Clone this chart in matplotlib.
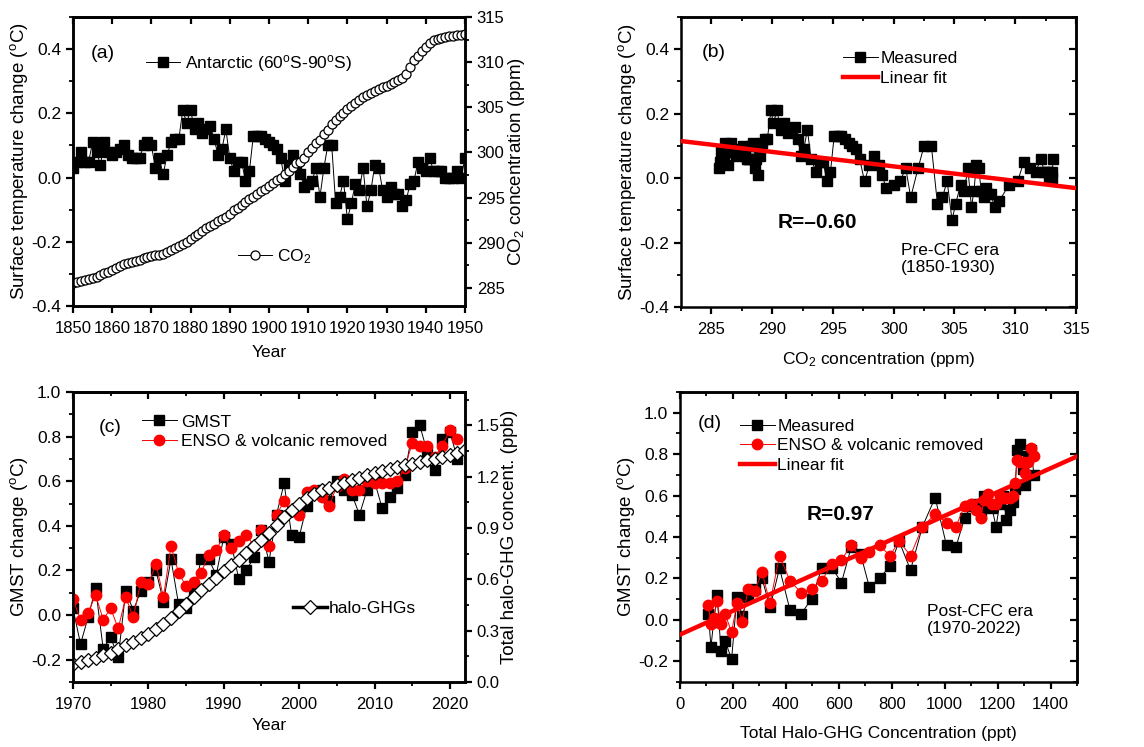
import numpy as np
import matplotlib
matplotlib.use("Agg")
import matplotlib.pyplot as plt
from matplotlib.ticker import MultipleLocator

plt.rcParams['font.family'] = ['Liberation Sans', 'DejaVu Sans']
plt.rcParams['mathtext.fontset'] = 'custom'
plt.rcParams['mathtext.rm'] = 'Liberation Sans'
plt.rcParams['mathtext.it'] = 'Liberation Sans:italic'
plt.rcParams['mathtext.bf'] = 'Liberation Sans:bold'

# ---------------- data ----------------
years_a = list(range(1850, 1951))
antarctic_temp = [0.03, 0.05, 0.08, 0.05, 0.05, 0.11, 0.08, 0.04, 0.11, 0.08,
                  0.07, 0.08, 0.09, 0.10, 0.07, 0.06, 0.06, 0.06, 0.10, 0.11,
                  0.10, 0.03, 0.06, 0.01, 0.07, 0.11, 0.12, 0.12, 0.21, 0.17,
                  0.21, 0.15, 0.17, 0.14, 0.15, 0.16, 0.12, 0.07, 0.09, 0.15,
                  0.06, 0.02, 0.05, 0.05, -0.01, 0.02, 0.13, 0.13, 0.13, 0.12,
                  0.11, 0.10, 0.09, 0.06, -0.01, 0.04, 0.07, 0.04, 0.01, -0.03,
                  -0.02, -0.01, 0.03, -0.06, 0.03, 0.10, 0.10, -0.08, -0.06, -0.01,
                  -0.13, -0.08, -0.02, -0.04, 0.03, -0.09, -0.04, 0.04, 0.03, -0.04,
                  -0.06, -0.03, -0.05, -0.05, -0.09, -0.07, -0.02, -0.01, 0.05, 0.03,
                  0.02, 0.06, 0.02, 0.02, 0.02, 0.00, 0.00, 0.00, 0.02, 0.00,
                  0.06]
co2_ppm = [285.6, 285.7, 285.8, 285.9, 286.0, 286.1, 286.2, 286.4, 286.6, 286.8,
           287.0, 287.2, 287.4, 287.6, 287.8, 287.9, 288.0, 288.1, 288.3, 288.4,
           288.5, 288.6, 288.7, 288.8, 289.0, 289.2, 289.4, 289.6, 289.9, 290.1,
           290.4, 290.7, 291.0, 291.3, 291.6, 291.9, 292.1, 292.4, 292.6, 292.9,
           293.2, 293.6, 293.9, 294.2, 294.5, 294.8, 295.1, 295.4, 295.7, 296.0,
           296.3, 296.6, 296.9, 297.2, 297.6, 298.0, 298.4, 298.8, 299.0, 299.4,
           300.0, 300.5, 301.0, 301.4, 302.0, 302.5, 303.1, 303.6, 304.0, 304.4,
           304.8, 305.1, 305.5, 305.8, 306.1, 306.4, 306.6, 306.8, 307.0, 307.2,
           307.4, 307.6, 307.8, 308.0, 308.3, 308.7, 309.5, 310.2, 310.7, 311.2,
           311.7, 312.1, 312.4, 312.6, 312.7, 312.8, 312.9, 312.9, 313.0, 313.05,
           313.1]
fit_b_x = [282.5, 315.0]
fit_b_y = [0.115, -0.031]

years_c = list(range(1970, 2022))
gmst = [0.03, -0.13, -0.01, 0.12, -0.15, -0.10, -0.19, 0.11, 0.02, 0.11,
        0.15, 0.20, 0.06, 0.25, 0.05, 0.03, 0.10, 0.25, 0.25, 0.18,
        0.35, 0.32, 0.16, 0.20, 0.26, 0.38, 0.24, 0.45, 0.59, 0.36,
        0.35, 0.49, 0.55, 0.56, 0.51, 0.60, 0.56, 0.54, 0.45, 0.56,
        0.60, 0.48, 0.53, 0.57, 0.63, 0.82, 0.85, 0.73, 0.65, 0.79,
        0.82, 0.70]
gmst_adj = [0.07, -0.02, 0.01, 0.09, -0.02, 0.03, -0.06, 0.08, -0.01, 0.15,
            0.14, 0.23, 0.08, 0.31, 0.19, 0.13, 0.15, 0.19, 0.27, 0.29,
            0.36, 0.30, 0.33, 0.36, 0.31, 0.38, 0.31, 0.45, 0.51, 0.47,
            0.45, 0.55, 0.56, 0.53, 0.49, 0.58, 0.61, 0.56, 0.56, 0.60,
            0.59, 0.59, 0.59, 0.60, 0.66, 0.77, 0.76, 0.76, 0.71, 0.76,
            0.83, 0.79]
years_halo = list(range(1970, 2023))
halo_ppb = [0.107, 0.117, 0.127, 0.140, 0.155, 0.170, 0.195, 0.215, 0.235, 0.257,
            0.282, 0.310, 0.340, 0.376, 0.415, 0.458, 0.497, 0.536, 0.575, 0.610,
            0.647, 0.682, 0.715, 0.754, 0.793, 0.828, 0.871, 0.916, 0.964, 1.007,
            1.042, 1.075, 1.100, 1.120, 1.136, 1.149, 1.165, 1.179, 1.194, 1.208,
            1.222, 1.233, 1.245, 1.257, 1.266, 1.274, 1.284, 1.296, 1.305, 1.315,
            1.325, 1.338, 1.354]
fit_d_x = [0.0, 1500.0]
fit_d_y = [-0.071, 0.789]

# ---------------- figure ----------------
fig = plt.figure(figsize=(11.44, 7.47), dpi=100)
W, H = 1144, 747


def add_axes_px(l, t, r, b):
    return fig.add_axes([l / W, 1 - b / H, (r - l) / W, (b - t) / H])


SP_LW = 1.8
XTICK_FS = 12
YTICK_FS = 12.5
XLAB_FS = 12.5
YLAB_FS = 13.5
LEG_FS = 12.5
PANEL_FS = 14


def style_axes(ax):
    for s in ax.spines.values():
        s.set_linewidth(SP_LW)
    ax.tick_params(which='major', length=5, width=1.6, direction='out')
    ax.tick_params(which='minor', length=3, width=1.3, direction='out')
    ax.tick_params(axis='x', labelsize=XTICK_FS, pad=6)
    ax.tick_params(axis='y', labelsize=YTICK_FS)
    ax.tick_params(top=False, right=False, which='both')


def mirror(ax, xmaj, xmin, ymaj=None, ymin=None):
    sx = ax.secondary_xaxis('top')
    sx.xaxis.set_major_locator(MultipleLocator(xmaj))
    if xmin:
        sx.xaxis.set_minor_locator(MultipleLocator(xmin))
    sx.tick_params(which='major', direction='in', length=5, width=1.6, labeltop=False)
    sx.tick_params(which='minor', direction='in', length=3, width=1.3)
    sx.spines['top'].set_linewidth(SP_LW)
    if ymaj is not None:
        sy = ax.secondary_yaxis('right')
        sy.yaxis.set_major_locator(MultipleLocator(ymaj))
        if ymin:
            sy.yaxis.set_minor_locator(MultipleLocator(ymin))
        sy.tick_params(which='major', direction='in', length=5, width=1.6, labelright=False)
        sy.tick_params(which='minor', direction='in', length=3, width=1.3)
        sy.spines['right'].set_linewidth(SP_LW)


def style_twin(a):
    for s in a.spines.values():
        s.set_linewidth(SP_LW)
    a.tick_params(which='major', length=5, width=1.6, labelsize=XTICK_FS, direction='out')
    a.tick_params(which='minor', length=3, width=1.3, direction='out')


deg = r'($^\mathrm{o}$C)'
leg_kw = dict(frameon=False, fontsize=LEG_FS, handlelength=2.0, borderaxespad=0,
              borderpad=0, numpoints=1, labelspacing=0.25, loc='center left')

# ---------- (a) ----------
ax = add_axes_px(73, 17, 465, 306)
style_axes(ax)
ax.plot(years_a, antarctic_temp, color='black', lw=0.7, marker='s', ms=7,
        mfc='black', mec='black', label=r'Antarctic (60$^\mathrm{o}$S-90$^\mathrm{o}$S)')
ax.set_xlim(1850, 1950)
ax.set_ylim(-0.4, 0.5)
ax.xaxis.set_major_locator(MultipleLocator(10))
ax.set_yticks([-0.4, -0.2, 0.0, 0.2, 0.4])
ax.set_yticklabels(['-0.4', '-0.2', '0.0', '0.2', '0.4'])
ax.yaxis.set_minor_locator(MultipleLocator(0.1))
ax.set_xlabel('Year', fontsize=XLAB_FS, labelpad=6)
ax.set_ylabel('Surface temperature change ' + deg, fontsize=YLAB_FS, labelpad=1)
mirror(ax, 10, None)
ax2 = ax.twinx()
ax2.plot(years_a, co2_ppm, color='black', lw=0.7, marker='o', ms=6.5,
         mfc='white', mec='black', mew=0.9, label='CO$_2$')
ax2.set_ylim(283.0, 315.0)
ax2.yaxis.set_major_locator(MultipleLocator(5))
ax2.yaxis.set_minor_locator(MultipleLocator(2.5))
style_twin(ax2)
ax2.set_ylabel('CO$_2$ concentration (ppm)', fontsize=YLAB_FS, labelpad=1)
ax.text(0.046, 0.875, '(a)', transform=ax.transAxes, fontsize=PANEL_FS, va='center')
ax.legend(bbox_to_anchor=(0.185, 0.84), handletextpad=0.25, **leg_kw)
ax2.legend(bbox_to_anchor=(0.42, 0.17), handletextpad=0.25, **leg_kw)

# ---------- (b) ----------
bx = add_axes_px(681, 17, 1076, 307)
style_axes(bx)
bx.plot(co2_ppm, antarctic_temp, color='black', lw=0.7, marker='s', ms=7,
        mfc='black', mec='black', label='Measured', zorder=2)
bx.plot(fit_b_x, fit_b_y, color='#ff0000', lw=3.2, label='Linear fit', zorder=3)
bx.set_xlim(282.5, 315)
bx.set_ylim(-0.4, 0.5)
bx.xaxis.set_major_locator(MultipleLocator(5))
bx.xaxis.set_minor_locator(MultipleLocator(2.5))
bx.set_yticks([-0.4, -0.2, 0.0, 0.2, 0.4])
bx.set_yticklabels(['-0.4', '-0.2', '0.0', '0.2', '0.4'])
bx.yaxis.set_minor_locator(MultipleLocator(0.1))
bx.set_xlabel('CO$_2$ concentration (ppm)', fontsize=XLAB_FS, labelpad=9)
bx.set_ylabel('Surface temperature change ' + deg, fontsize=YLAB_FS, labelpad=1)
mirror(bx, 5, 2.5, 0.2, 0.1)
bx.text(0.053, 0.876, '(b)', transform=bx.transAxes, fontsize=PANEL_FS, va='center')
bx.text(0.245, 0.29, 'R=\u20130.60', transform=bx.transAxes, fontsize=15, fontweight='bold', va='center')
bx.text(0.557, 0.165, 'Pre-CFC era\n(1850-1930)', transform=bx.transAxes, fontsize=LEG_FS,
        va='center', linespacing=1.15)
bx.legend(bbox_to_anchor=(0.41, 0.822), handletextpad=0.15, **leg_kw)

# ---------- (c) ----------
cx = add_axes_px(73, 392, 465, 682)
style_axes(cx)
cx.plot(years_c, gmst, color='black', lw=0.7, marker='s', ms=7,
        mfc='black', mec='black', label='GMST', zorder=2)
cx.plot(years_c, gmst_adj, color='#ff0000', lw=0.7, marker='o', ms=7.5,
        mfc='#ff0000', mec='#ff0000', label='ENSO & volcanic removed', zorder=3)
cx.set_xlim(1970, 2022)
cx.set_ylim(-0.3, 1.0)
cx.xaxis.set_major_locator(MultipleLocator(10))
cx.xaxis.set_minor_locator(MultipleLocator(5))
cx.set_yticks([-0.2, 0.0, 0.2, 0.4, 0.6, 0.8, 1.0])
cx.set_yticklabels(['-0.2', '0.0', '0.2', '0.4', '0.6', '0.8', '1.0'])
cx.yaxis.set_minor_locator(MultipleLocator(0.1))
cx.set_xlabel('Year', fontsize=XLAB_FS, labelpad=4)
cx.set_ylabel('GMST change ' + deg, fontsize=YLAB_FS, labelpad=1)
mirror(cx, 10, 5)
cx2 = cx.twinx()
cx2.plot(years_halo, halo_ppb, color='black', lw=2.5, marker='D', ms=7,
         mfc='white', mec='black', mew=0.9, label='halo-GHGs')
cx2.set_ylim(0.0, 1.695)
cx2.set_yticks([0.0, 0.3, 0.6, 0.9, 1.2, 1.5])
cx2.set_yticklabels(['0.0', '0.3', '0.6', '0.9', '1.2', '1.5'])
cx2.yaxis.set_minor_locator(MultipleLocator(0.15))
style_twin(cx2)
cx2.set_ylabel('Total halo-GHG concent. (ppb)', fontsize=YLAB_FS, labelpad=1)
cx.text(0.066, 0.876, '(c)', transform=cx.transAxes, fontsize=PANEL_FS, va='center')
cx.legend(bbox_to_anchor=(0.176, 0.863), handletextpad=0.25, **leg_kw)
cx2.legend(bbox_to_anchor=(0.56, 0.255), handletextpad=0.1, **leg_kw)

# ---------- (d) ----------
dx = add_axes_px(680, 392, 1077, 682)
style_axes(dx)
halo_ppt = [v * 1000 for v in halo_ppb]
dx.plot(halo_ppt[:len(gmst)], gmst, color='black', lw=0.7, marker='s', ms=7,
        mfc='black', mec='black', label='Measured', zorder=2)
dx.plot(fit_d_x, fit_d_y, color='#ff0000', lw=3.2, label='Linear fit', zorder=3)
dx.plot(halo_ppt[:len(gmst_adj)], gmst_adj, color='#ff0000', lw=0.7, marker='o', ms=7.5,
        mfc='#ff0000', mec='#ff0000', label='ENSO & volcanic removed', zorder=4)
dx.set_xlim(0, 1500)
dx.set_ylim(-0.3, 1.1)
dx.xaxis.set_major_locator(MultipleLocator(200))
dx.xaxis.set_minor_locator(MultipleLocator(100))
dx.set_yticks([-0.2, 0.0, 0.2, 0.4, 0.6, 0.8, 1.0])
dx.set_yticklabels(['-0.2', '0.0', '0.2', '0.4', '0.6', '0.8', '1.0'])
dx.yaxis.set_minor_locator(MultipleLocator(0.1))
dx.set_xlabel('Total Halo-GHG Concentration (ppt)', fontsize=XLAB_FS, labelpad=10)
dx.set_ylabel('GMST change ' + deg, fontsize=YLAB_FS, labelpad=1)
mirror(dx, 200, 100, 0.2, 0.1)
dx.text(0.045, 0.893, '(d)', transform=dx.transAxes, fontsize=PANEL_FS, va='center')
dx.text(0.32, 0.576, 'R=0.97', transform=dx.transAxes, fontsize=15, fontweight='bold', va='center')
dx.text(0.622, 0.214, 'Post-CFC era\n(1970-2022)', transform=dx.transAxes, fontsize=LEG_FS,
        va='center', linespacing=1.15)
h, l = dx.get_legend_handles_labels()
order = [0, 2, 1]
dx.legend([h[i] for i in order], [l[i] for i in order],
          bbox_to_anchor=(0.151, 0.815), handletextpad=0.15, **leg_kw)

fig.savefig('out.png', dpi=100)
